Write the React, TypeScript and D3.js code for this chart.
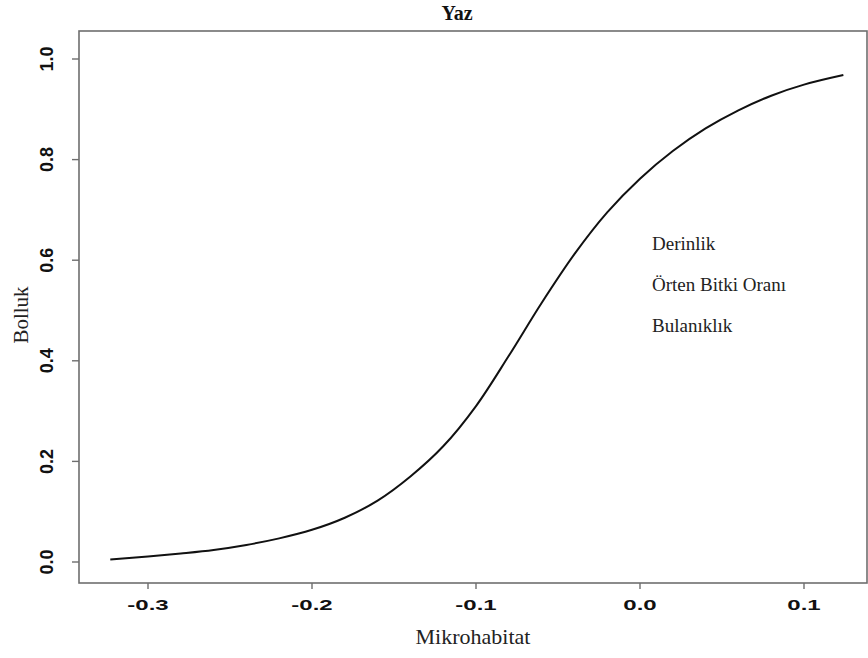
import React from "react";
import * as d3 from "d3";

// Fitted abundance vs. microhabitat score (summer)
const habitatX = [
  -0.323, -0.3, -0.28, -0.26, -0.24, -0.22, -0.2, -0.18, -0.16, -0.14, -0.12,
  -0.1, -0.08, -0.06, -0.04, -0.02, 0.0, 0.02, 0.04, 0.06, 0.08, 0.1, 0.124,
];
const abundanceY = [
  0.005, 0.011, 0.017, 0.024, 0.034, 0.047, 0.064, 0.088, 0.122, 0.17, 0.23,
  0.31, 0.41, 0.515, 0.612, 0.695, 0.762, 0.817, 0.862, 0.898, 0.927, 0.949,
  0.968,
];

const xTicks = [-0.3, -0.2, -0.1, 0.0, 0.1];
const yTicks = [0.0, 0.2, 0.4, 0.6, 0.8, 1.0];
const noteLines = ["Derinlik", "Örten Bitki Oranı", "Bulanıklık"];

const W = 868;
const H = 658;
const frame = { left: 79, right: 867, top: 31, bottom: 583 };

const x = d3.scaleLinear().domain([-0.3, 0.1]).range([148, 804]);
const y = d3.scaleLinear().domain([0, 1]).range([562, 59]);

const line = d3
  .line<number>()
  .x((_, i) => x(habitatX[i]))
  .y((d) => y(d))
  .curve(d3.curveCatmullRom.alpha(0.5));

const serif = "'Liberation Serif', 'Times New Roman', serif";
const sans = "'Liberation Sans', Arial, sans-serif";
const frameColor = "#6e6e6e";

export default function App() {
  return (
    <svg
      width={W}
      height={H}
      viewBox={`0 0 ${W} ${H}`}
      style={{ position: "absolute", left: 0, top: 0, background: "#fff" }}
    >
      <rect x={0} y={0} width={W} height={H} fill="#fff" />

      {/* plot frame */}
      <rect
        x={frame.left}
        y={frame.top}
        width={frame.right - frame.left}
        height={frame.bottom - frame.top}
        fill="none"
        stroke={frameColor}
        strokeWidth={1.6}
      />

      {/* x axis ticks and labels */}
      {xTicks.map((t) => (
        <g key={`x${t}`}>
          <line
            x1={x(t)}
            x2={x(t)}
            y1={frame.bottom}
            y2={frame.bottom + 6}
            stroke={frameColor}
            strokeWidth={1.4}
          />
          <text
            transform={`translate(${x(t)},${610}) scale(1.6,1)`}
            textAnchor="middle"
            fontFamily={sans}
            fontWeight="bold"
            fontSize={15}
            fill="#111"
          >
            {t.toFixed(1)}
          </text>
        </g>
      ))}

      {/* y axis ticks and labels */}
      {yTicks.map((t) => (
        <g key={`y${t}`}>
          <line
            x1={frame.left - 7}
            x2={frame.left}
            y1={y(t)}
            y2={y(t)}
            stroke={frameColor}
            strokeWidth={1.4}
          />
          <text
            transform={`translate(${53},${y(t)}) scale(1.05,1) rotate(-90)`}
            textAnchor="middle"
            fontFamily={sans}
            fontWeight="bold"
            fontSize={18}
            fill="#111"
          >
            {t.toFixed(1)}
          </text>
        </g>
      ))}

      {/* fitted curve */}
      <path
        d={line(abundanceY) ?? ""}
        fill="none"
        stroke="#111"
        strokeWidth={2}
        strokeLinejoin="round"
      />

      {/* title */}
      <text
        x={457}
        y={20}
        textAnchor="middle"
        fontFamily={serif}
        fontWeight="bold"
        fontSize={20}
        fill="#111"
      >
        Yaz
      </text>

      {/* axis titles */}
      <text
        x={473}
        y={644}
        textAnchor="middle"
        fontFamily={serif}
        fontSize={22}
        fill="#222"
      >
        Mikrohabitat
      </text>
      <text
        transform={`translate(28,315) rotate(-90)`}
        textAnchor="middle"
        fontFamily={serif}
        fontSize={21}
        fill="#222"
      >
        Bolluk
      </text>

      {/* variable notes */}
      {noteLines.map((s, i) => (
        <text
          key={s}
          x={652}
          y={250 + i * 41}
          fontFamily={serif}
          fontSize={19}
          fill="#222"
        >
          {s}
        </text>
      ))}
    </svg>
  );
}
